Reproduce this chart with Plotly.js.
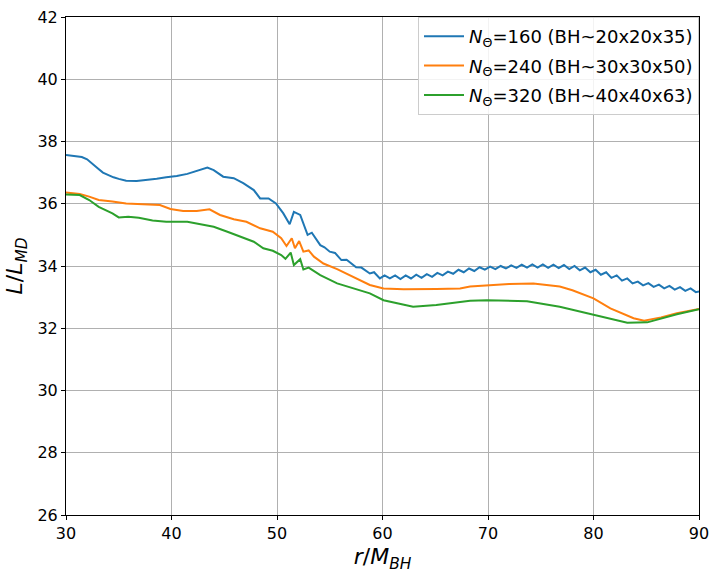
<!DOCTYPE html>
<html>
<head>
<meta charset="utf-8">
<script src="https://cdn.plot.ly/plotly-3.0.1.min.js"></script>
<style>
  html, body { margin: 0; padding: 0; background: #fff; }
  #chart { width: 720px; height: 576px; }
</style>
</head>
<body>
<div id="chart"></div>
<script>
// values
const x160 = [30, 30.5, 31, 31.5, 32, 32.5, 33, 33.5, 34, 34.5, 35, 35.7, 36.7, 37.6, 38.6, 39.5, 40.5, 41.5, 42.4, 43.4,
  44.0, 44.9, 45.9, 46.8, 47.8, 48.4, 49.2, 49.9, 50.6, 51.2, 51.6, 52.2, 52.9, 53.3, 54.1, 54.5, 55.0, 55.5, 56.1, 56.6,
  57.5, 58.0, 58.8, 59.2, 59.75, 60.2, 60.7, 61.2, 61.7, 62.2, 62.7, 63.2, 63.7, 64.2, 64.7, 65.2, 65.7, 66.2, 66.7, 67.2,
  67.7, 68.2, 68.7, 69.2, 69.7, 70.2, 70.7, 71.2, 71.7, 72.2, 72.7, 73.2, 73.7, 74.2, 74.7, 75.2, 75.7, 76.2, 76.7, 77.2,
  77.7, 78.2, 78.7, 79.2, 79.7, 80.2, 80.7, 81.2, 81.7, 82.2, 82.7, 83.2, 83.7, 84.2, 84.7, 85.2, 85.7, 86.2, 86.7, 87.2,
  87.7, 88.2, 88.7, 89.2, 89.7, 90];
const y160 = [37.57, 37.55, 37.53, 37.5, 37.43, 37.3, 37.14, 37.0, 36.92, 36.85, 36.8, 36.74, 36.73, 36.76, 36.8, 36.85, 36.89, 36.96, 37.06, 37.16,
  37.08, 36.87, 36.82, 36.66, 36.44, 36.17, 36.17, 36.01, 35.69, 35.34, 35.74, 35.64, 35.0, 35.07, 34.67, 34.6, 34.46, 34.42, 34.19, 34.2,
  33.96, 33.95, 33.76, 33.8, 33.6, 33.7, 33.6, 33.7, 33.58, 33.7, 33.6, 33.72, 33.62, 33.74, 33.65, 33.78, 33.7, 33.82, 33.75, 33.88,
  33.8, 33.92, 33.84, 33.96, 33.88, 33.98, 33.9, 34.0, 33.92, 34.02, 33.94, 34.04, 33.95, 34.05, 33.95, 34.05, 33.94, 34.04, 33.93, 34.03,
  33.9, 34.0, 33.86, 33.95, 33.8, 33.88, 33.72, 33.8, 33.62, 33.7, 33.53, 33.6, 33.44, 33.5, 33.38, 33.45, 33.33, 33.4, 33.28, 33.36,
  33.24, 33.32, 33.2, 33.28, 33.16, 33.18];

const x240 = [30, 31.3, 32.2, 33.1, 34.4, 35.7, 37.3, 38.9, 39.9, 41.1, 42.4, 43.6, 44.6, 45.9, 47.1, 48.4, 49.6, 50.4, 50.9, 51.4,
  51.7, 52.1, 52.5, 53.0, 53.5, 54.4, 55.7, 57.2, 58.8, 60.1, 62, 65.1, 67.35, 68.3, 70, 72, 74.3, 76.8, 78, 80,
  81.6, 83, 83.8, 84.8, 86.4, 87.9, 90];
const y240 = [36.36, 36.31, 36.23, 36.12, 36.07, 36.01, 35.98, 35.96, 35.83, 35.77, 35.77, 35.82, 35.64, 35.5, 35.42, 35.21, 35.1, 34.89, 34.64, 34.89,
  34.57, 34.8, 34.46, 34.5, 34.3, 34.08, 33.9, 33.66, 33.39, 33.28, 33.25, 33.26, 33.28, 33.34, 33.38, 33.42, 33.44, 33.34, 33.22, 32.96,
  32.64, 32.42, 32.32, 32.24, 32.35, 32.48, 32.62];

const x320 = [30, 31.3, 32.2, 33.1, 34.4, 35.0, 35.9, 36.9, 38.2, 39.5, 41.5, 42.7, 44.0, 45.3, 46.5, 47.8, 48.7, 49.6, 50.4, 50.8,
  51.3, 51.6, 52.2, 52.5, 53.0, 54.1, 55.7, 57.2, 58.8, 60.1, 62, 62.9, 65.1, 67.35, 68.3, 69.9, 73.7, 76.8, 80, 81.5,
  83.2, 85.1, 87.9, 90];
const y320 = [36.3, 36.28, 36.12, 35.9, 35.69, 35.56, 35.58, 35.55, 35.46, 35.42, 35.42, 35.35, 35.26, 35.1, 34.94, 34.78, 34.57, 34.49, 34.35, 34.23,
  34.43, 34.03, 34.22, 33.89, 33.95, 33.71, 33.44, 33.28, 33.12, 32.9, 32.75, 32.69, 32.75, 32.85, 32.88, 32.9, 32.87, 32.69, 32.43, 32.3,
  32.18, 32.19, 32.45, 32.61];

const names = [
  '<i>N</i><sub>Θ</sub>=160 (BH~20x20x35)',
  '<i>N</i><sub>Θ</sub>=240 (BH~30x30x50)',
  '<i>N</i><sub>Θ</sub>=320 (BH~40x40x63)'
];
const colors = ['#1f77b4', '#ff7f0e', '#2ca02c'];

const series = [[x160, y160], [x240, y240], [x320, y320]];
const traces = series.map((s, i) => ({
  x: s[0],
  y: s[1],
  name: names[i],
  legendgroup: 'g' + i,   // separate groups so tracegroupgap spaces the rows
  type: 'scatter',
  mode: 'lines',
  line: { color: colors[i], width: 2 },
}));

const axisCommon = {
  showline: true,
  linecolor: '#000',
  linewidth: 1,
  mirror: true,
  showgrid: true,
  gridcolor: '#b0b0b0',
  gridwidth: 1,
  ticks: 'outside',
  ticklen: 4,
  tickcolor: '#000',
  zeroline: false,
  tickfont: { family: 'DejaVu Sans', size: 16, color: '#000' },
};

const layout = {
  width: 720,
  height: 576,
  margin: { l: 66, r: 21, t: 17, b: 61 },
  paper_bgcolor: '#fff',
  plot_bgcolor: '#fff',
  font: { family: 'DejaVu Sans', color: '#000' },
  showlegend: true,
  legend: {
    x: 1, y: 1, xanchor: 'right', yanchor: 'top',
    bgcolor: 'rgba(255,255,255,0.85)',
    bordercolor: '#cccccc',
    borderwidth: 1,
    itemwidth: 40,
    font: { family: 'DejaVu Sans', size: 18, color: '#000' },
    tracegroupgap: 3,
  },
  xaxis: Object.assign({}, axisCommon, {
    range: [30, 90],
    tickvals: [30, 40, 50, 60, 70, 80, 90],
    title: { text: '<i>r</i>/<i>M</i><sub><i>BH</i></sub>', font: { family: 'DejaVu Sans', size: 22 }, standoff: 6 },
  }),
  yaxis: Object.assign({}, axisCommon, {
    range: [26, 42],
    tickvals: [26, 28, 30, 32, 34, 36, 38, 40, 42],
    title: { text: '<i>L</i>/<i>L</i><sub><i>MD</i></sub>', font: { family: 'DejaVu Sans', size: 22 }, standoff: 8 },
  }),
};

Plotly.newPlot('chart', traces, layout, { staticPlot: true, displayModeBar: false });
</script>
</body>
</html>
